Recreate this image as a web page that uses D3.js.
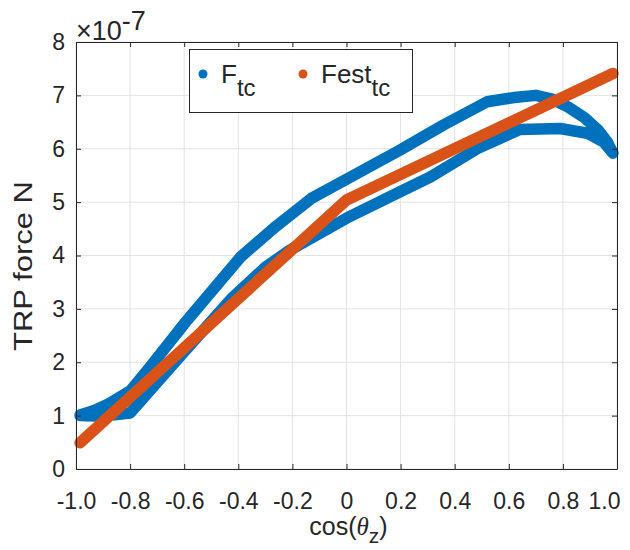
<!DOCTYPE html>
<html>
<head>
<meta charset="utf-8">
<script src="https://cdn.jsdelivr.net/npm/d3@7"></script>
<style>
  body { margin: 0; background: #fff; }
  text { font-family: "Liberation Sans", Arial, Helvetica, sans-serif; fill: #262626; }
</style>
</head>
<body>
<script>
const width = 630;
const height = 550;
const margin = {top: 42, right: 13, bottom: 81, left: 76};

// F_tc loop (units of 1e-7 N), upper branch left->right then lower branch right->left
const ftcX = [-0.985, -0.93, -0.88, -0.80, -0.72, -0.60, -0.50, -0.39, -0.26, -0.13, 0.0, 0.20, 0.36, 0.52, 0.62, 0.70, 0.76, 0.82, 0.88, 0.93, 0.965, 0.985,
              0.95, 0.89, 0.79, 0.64, 0.49, 0.31, 0.20, 0.0, -0.21, -0.30, -0.42, -0.60, -0.80, -0.90, -0.985];
const ftcY = [1.01, 1.10, 1.22, 1.46, 1.95, 2.72, 3.32, 3.98, 4.55, 5.07, 5.43, 5.98, 6.45, 6.88, 6.96, 7.00, 6.93, 6.78, 6.58, 6.35, 6.12, 5.92,
              6.13, 6.29, 6.38, 6.36, 6.02, 5.47, 5.20, 4.70, 4.10, 3.78, 3.22, 2.20, 1.05, 0.99, 1.00];

// Fest_tc estimate
const festX = [-0.985, 0.0, 0.985];
const festY = [0.49, 5.04, 7.41];

const xTicks = [-1.0, -0.8, -0.6, -0.4, -0.2, 0, 0.2, 0.4, 0.6, 0.8, 1.0];
const xTickLabels = ['-1.0', '-0.8', '-0.6', '-0.4', '-0.2', '0', '0.2', '0.4', '0.6', '0.8', '1.0'];
const yTicks = [0, 1, 2, 3, 4, 5, 6, 7, 8];

const blue = '#0072BD';
const orange = '#D95319';

const svg = d3.select('body')
              .append('svg')
              .attr('width', width)
              .attr('height', height);

const x = d3.scaleLinear().domain([-1, 1]).range([margin.left, width - margin.right]);
const y = d3.scaleLinear().domain([0, 8]).range([height - margin.bottom, margin.top]);

// grid
svg.append('g')
   .selectAll('line')
   .data(xTicks)
   .enter().append('line')
   .attr('x1', d => x(d)).attr('x2', d => x(d))
   .attr('y1', y(0)).attr('y2', y(8))
   .attr('stroke', '#e3e3e3').attr('stroke-width', 1);

svg.append('g')
   .selectAll('line')
   .data(yTicks)
   .enter().append('line')
   .attr('x1', x(-1)).attr('x2', x(1))
   .attr('y1', d => y(d)).attr('y2', d => y(d))
   .attr('stroke', '#e3e3e3').attr('stroke-width', 1);

// data lines
const line = d3.line().x(d => x(d[0])).y(d => y(d[1]));

svg.append('path')
   .datum(ftcX.map((v, i) => [v, ftcY[i]]))
   .attr('d', line)
   .attr('fill', 'none')
   .attr('stroke', blue)
   .attr('stroke-width', 11.5)
   .attr('stroke-linejoin', 'round')
   .attr('stroke-linecap', 'round');

svg.append('path')
   .datum(festX.map((v, i) => [v, festY[i]]))
   .attr('d', line)
   .attr('fill', 'none')
   .attr('stroke', orange)
   .attr('stroke-width', 11.5)
   .attr('stroke-linejoin', 'round')
   .attr('stroke-linecap', 'round');

// axes (box with inward ticks)
const xAxis = d3.axisBottom(x).tickValues(xTicks).tickSizeInner(-5).tickSizeOuter(0)
                .tickPadding(24).tickFormat((d, i) => xTickLabels[i]);
const yAxis = d3.axisLeft(y).tickValues(yTicks).tickSizeInner(-5).tickSizeOuter(0)
                .tickPadding(11).tickFormat(d3.format('d'));

const gx = svg.append('g').attr('transform', `translate(0,${y(0)})`).call(xAxis);
const gy = svg.append('g').attr('transform', `translate(${x(-1)},0)`).call(yAxis);

// last x label pulled inside the window, as in the reference
gx.selectAll('.tick text').filter(d => d === 1.0)
  .attr('text-anchor', 'end').attr('x', 3);

svg.append('g').attr('transform', `translate(0,${y(8)})`)
   .call(d3.axisTop(x).tickValues(xTicks).tickSizeInner(-5).tickSizeOuter(0).tickFormat(''));
svg.append('g').attr('transform', `translate(${x(1)},0)`)
   .call(d3.axisRight(y).tickValues(yTicks).tickSizeInner(-5).tickSizeOuter(0).tickFormat(''));

svg.selectAll('.domain, .tick line').attr('stroke', '#262626');
svg.selectAll('.tick text').attr('font-size', 23).attr('fill', '#262626');

// exponent label
const expo = svg.append('text')
   .attr('x', 76).attr('y', 40)
   .attr('font-size', 27);
expo.append('tspan').text('×10');
expo.append('tspan').attr('dy', -10).text('-7');

// axis labels
const xl = svg.append('text')
   .attr('x', (x(-1) + x(1)) / 2 + 2).attr('y', 535)
   .attr('text-anchor', 'middle')
   .attr('font-size', 25);
xl.append('tspan').text('cos(');
xl.append('tspan').attr('font-style', 'italic').attr('font-family', '"Liberation Serif", "DejaVu Serif", serif').text('θ');
xl.append('tspan').attr('dy', 8).attr('font-size', 21).text('z');
xl.append('tspan').attr('dy', -8).text(')');

svg.append('text')
   .attr('transform', 'translate(32,266) rotate(-90)')
   .attr('text-anchor', 'middle')
   .attr('font-size', 26)
   .attr('textLength', 170)
   .attr('lengthAdjust', 'spacingAndGlyphs')
   .text('TRP force N');

// legend
const legend = svg.append('g');
legend.append('rect')
   .attr('x', 189.5).attr('y', 49.5)
   .attr('width', 223).attr('height', 63)
   .attr('fill', '#fff').attr('stroke', '#262626').attr('stroke-width', 1);

const legendItems = [
  {name: 'F', sub: 'tc', color: blue, mx: 203, tx: 221},
  {name: 'Fest', sub: 'tc', color: orange, mx: 303, tx: 321}
];

legendItems.forEach(item => {
  legend.append('circle')
     .attr('cx', item.mx).attr('cy', 74).attr('r', 4.5)
     .attr('fill', item.color);
  const t = legend.append('text')
     .attr('x', item.tx).attr('y', 83)
     .attr('font-size', 26)
     .attr('fill', '#000');
  t.append('tspan').text(item.name);
  t.append('tspan').attr('dy', 13).attr('font-size', 24).text(item.sub);
});
</script>
</body>
</html>
